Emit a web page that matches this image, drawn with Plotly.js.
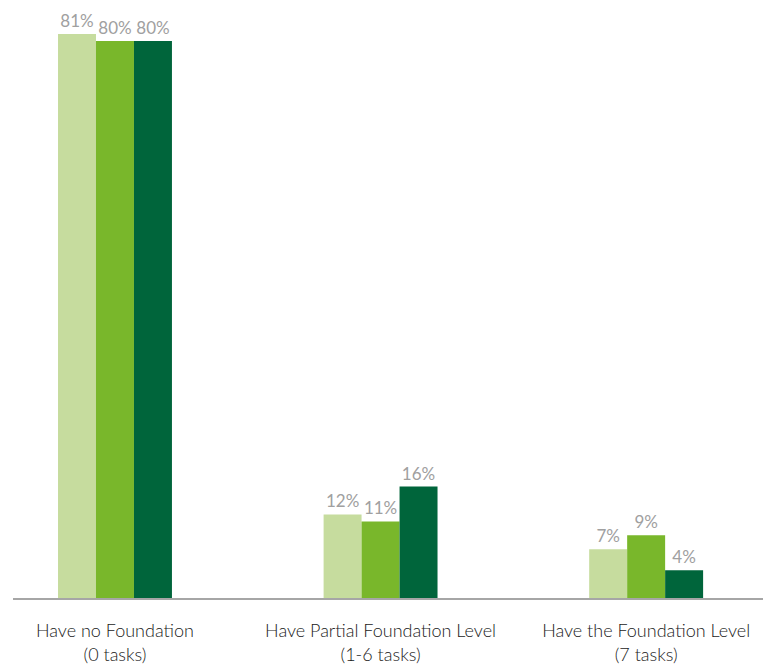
<!DOCTYPE html>
<html>
<head>
<meta charset="utf-8">
<script src="https://cdn.plot.ly/plotly-3.0.1.min.js"></script>
<style>html,body{margin:0;padding:0;background:#fff;}#chart{width:763px;height:667px;}</style>
</head>
<body>
<div id="chart"></div>
<script>
const categories = ["Have no Foundation<br>(0 tasks)", "Have Partial Foundation Level<br>(1-6 tasks)", "Have the Foundation Level<br>(7 tasks)"];
const seriesA = [81, 12, 7];
const seriesB = [80, 11, 9];
const seriesC = [80, 16, 4];
const colors = ["#c6dc9e", "#79b72b", "#00653b"];

function mk(vals, color, name) {
  return {
    type: "bar",
    name: name,
    x: categories,
    y: vals,
    marker: {color: color, line: {width: 0}},
    text: vals.map(v => v + "%"),
    textposition: "outside",
    textfont: {family: "Lato, 'Open Sans', sans-serif", size: 17, color: "#a0a0a0", weight: 400},
    cliponaxis: false,
    hoverinfo: "none"
  };
}

const data = [mk(seriesA, colors[0], "A"), mk(seriesB, colors[1], "B"), mk(seriesC, colors[2], "C")];

const layout = {
  width: 763, height: 667,
  margin: {l: 13, r: 0, t: 0, b: 69},
  paper_bgcolor: "#ffffff",
  plot_bgcolor: "#ffffff",
  showlegend: false,
  barmode: "group",
  bargap: 0.571,
  bargroupgap: 0,
  xaxis: {
    type: "category",
    range: [-0.384, 2.44],
    showline: true, linecolor: "#a6a6a6", linewidth: 1.5,
    showgrid: false, zeroline: false,
    ticks: "outside", ticklen: 16, tickcolor: "rgba(0,0,0,0)",
    tickfont: {family: "Lato, 'Open Sans', sans-serif", size: 18, color: "#1a1a1a", weight: 300},
    fixedrange: true
  },
  yaxis: {
    visible: false,
    range: [0, 85.9],
    showgrid: false, zeroline: false,
    fixedrange: true
  }
};

Plotly.newPlot("chart", data, layout, {displayModeBar: false, staticPlot: true});
</script>
</body>
</html>
